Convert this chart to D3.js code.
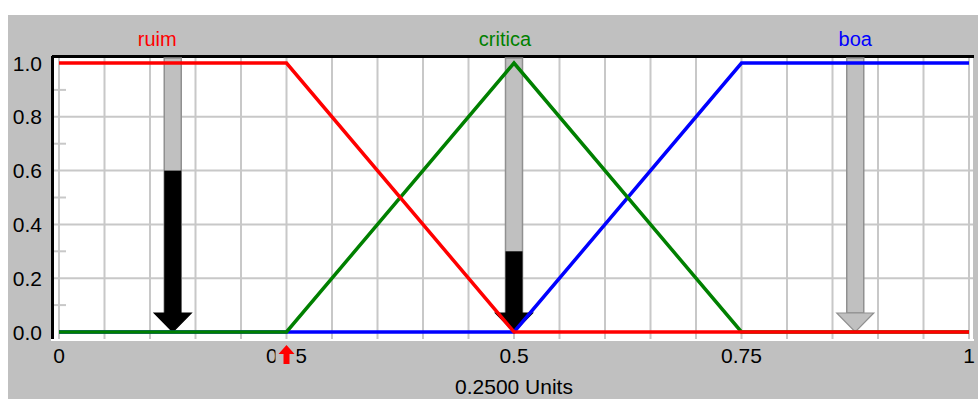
<!DOCTYPE html>
<html><head><meta charset="utf-8">
<script src="https://cdn.jsdelivr.net/npm/d3@7"></script>
<style>body{margin:0;background:#fff}svg{display:block}text{font-family:"Liberation Sans",Arial,sans-serif}</style>
</head><body>
<script>
// Membership functions (x, degree)
const seriesNames = ["boa", "critica", "ruim"];           // draw order
const seriesColors = {ruim: "#ff0000", critica: "#008000", boa: "#0000ff"};
const ruimPts = [[0,1],[0.25,1],[0.5,0],[1,0]];
const criticaPts = [[0,0],[0.25,0],[0.5,1],[0.75,0],[1,0]];
const boaPts = [[0,0],[0.5,0],[0.75,1],[1,1]];
const labelNames = ["ruim", "critica", "boa"];
const labelAt = [0.108, 0.490, 0.875];
// Output arrows: position and activation degree
const arrowAt = [0.125, 0.5, 0.875];
const arrowDegree = [0.6, 0.3, 0.0];
const inputValue = 0.25;
const xTicks = [0, 0.25, 0.5, 0.75, 1];
const xTickLabels = ["0", "0.25", "0.5", "0.75", "1"];
const yTicks = [0, 0.2, 0.4, 0.6, 0.8, 1.0];
const yTickLabels = ["0.0", "0.2", "0.4", "0.6", "0.8", "1.0"];
const xGrid = d3.range(0, 21).map(i => i / 20);
const yMinor = [0.1, 0.3, 0.5, 0.7, 0.9];
const unitsLabel = "0.2500 Units";

const W = 978, H = 399;
const svg = d3.select("body").append("svg").attr("width", W).attr("height", H);
const x = d3.scaleLinear().domain([0, 1]).range([59, 969]);
const y = d3.scaleLinear().domain([0, 1]).range([332, 63]);
const plot = {l: 54, t: 58, r: 973, b: 339};

// background
svg.append("rect").attr("x", 8).attr("y", 15).attr("width", W - 8).attr("height", H - 15).attr("fill", "#c0c0c0");
// plot area
svg.append("rect").attr("x", plot.l).attr("y", plot.t).attr("width", plot.r - plot.l).attr("height", plot.b - plot.t).attr("fill", "#fff");
// sunken border
svg.append("line").attr("x1", plot.l - 2).attr("x2", plot.r + 1).attr("y1", plot.t - 1.5).attr("y2", plot.t - 1.5).attr("stroke", "#000").attr("stroke-width", 3);
svg.append("line").attr("x1", plot.l - 1.5).attr("x2", plot.l - 1.5).attr("y1", plot.t - 2).attr("y2", plot.b).attr("stroke", "#000").attr("stroke-width", 3);
svg.append("line").attr("x1", plot.l - 3).attr("x2", plot.r + 1).attr("y1", plot.b + 1).attr("y2", plot.b + 1).attr("stroke", "#fff").attr("stroke-width", 2);

// grid
svg.append("g").selectAll("line").data(xGrid).join("line")
  .attr("x1", d => x(d)).attr("x2", d => x(d)).attr("y1", plot.t).attr("y2", plot.b)
  .attr("stroke", "#c8c8c8").attr("stroke-width", 2);
svg.append("g").selectAll("line").data(yTicks.filter(d => d > 0 && d < 1)).join("line")
  .attr("x1", plot.l).attr("x2", plot.r).attr("y1", d => y(d)).attr("y2", d => y(d))
  .attr("stroke", "#c8c8c8").attr("stroke-width", 2);
svg.append("g").selectAll("line").data(yMinor).join("line")
  .attr("x1", plot.l).attr("x2", plot.l + 12).attr("y1", d => y(d)).attr("y2", d => y(d))
  .attr("stroke", "#c8c8c8").attr("stroke-width", 2);

// output arrows
const shaftW = 17, headW = 37, headH = 19;
arrowAt.forEach((a, i) => {
  const cx = x(a), tip = y(0), headTop = tip - headH;
  const g = svg.append("g");
  g.append("rect").attr("x", cx - shaftW / 2).attr("y", plot.t).attr("width", shaftW).attr("height", headTop - plot.t)
    .attr("fill", "#c0c0c0").attr("stroke", "#909090").attr("stroke-width", 1.5);
  const deg = arrowDegree[i];
  g.append("path")
    .attr("d", `M${cx - headW / 2},${headTop}L${cx + headW / 2},${headTop}L${cx},${tip}Z`)
    .attr("fill", deg > 0 ? "#000" : "#c0c0c0").attr("stroke", deg > 0 ? "#000" : "#909090").attr("stroke-width", 1.2);
  if (deg > 0) {
    g.append("rect").attr("x", cx - shaftW / 2).attr("y", y(deg)).attr("width", shaftW).attr("height", headTop - y(deg) + 1)
      .attr("fill", "#000");
  }
});

// membership lines
const line = d3.line().x(d => x(d[0])).y(d => y(d[1]));
const ptsMap = {ruim: ruimPts, critica: criticaPts, boa: boaPts};
seriesNames.forEach(n => {
  svg.append("path").attr("d", line(ptsMap[n])).attr("fill", "none")
    .attr("stroke", seriesColors[n]).attr("stroke-width", 3.5).attr("stroke-linejoin", "miter");
});

// series labels
svg.append("g").selectAll("text").data(labelNames).join("text")
  .attr("x", (d, i) => x(labelAt[i])).attr("y", 46).attr("text-anchor", "middle")
  .attr("font-size", 20).attr("fill", d => seriesColors[d]).text(d => d);

// y axis labels
svg.append("g").selectAll("text").data(yTicks).join("text")
  .attr("x", 42).attr("y", d => y(d)).attr("dy", "0.36em").attr("text-anchor", "end")
  .attr("font-size", 21).attr("fill", "#000").text((d, i) => yTickLabels[i]);

// x axis labels
svg.append("g").selectAll("text").data(xTicks).join("text")
  .attr("x", d => x(d)).attr("y", 363).attr("text-anchor", "middle")
  .attr("font-size", 21).attr("fill", "#000").text((d, i) => xTickLabels[i]);

// input marker
{
  const cx = x(inputValue);
  svg.append("rect").attr("x", cx - 11).attr("y", 343).attr("width", 21).attr("height", 23).attr("fill", "#c0c0c0");
  svg.append("path")
    .attr("d", `M${cx},345L${cx + 8},354L${cx + 3},354L${cx + 3},364L${cx - 3},364L${cx - 3},354L${cx - 8},354Z`)
    .attr("fill", "#ff0000");
}

// units label
svg.append("text").attr("x", x(0.5)).attr("y", 394).attr("text-anchor", "middle")
  .attr("font-size", 21).attr("fill", "#000").text(unitsLabel);
</script>
</body></html>
